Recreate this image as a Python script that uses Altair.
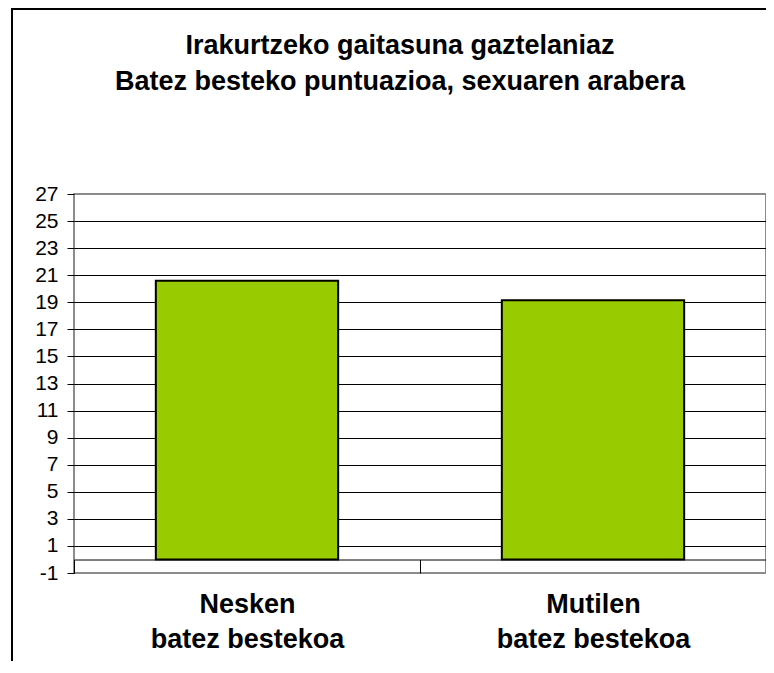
import altair as alt
import pandas as pd

# ---- data ----
categories = ["Nesken\nbatez bestekoa", "Mutilen\nbatez bestekoa"]
values = [20.6, 19.15]
y_ticks = [-1, 1, 3, 5, 7, 9, 11, 13, 15, 17, 19, 21, 23, 25, 27]
title_lines = ["Irakurtzeko gaitasuna gaztelaniaz",
               "Batez besteko puntuazioa, sexuaren arabera"]

df = pd.DataFrame({"cat": categories, "val": values})
one = pd.DataFrame({"t": [0]})

W, H = 692, 379
FONT = "Liberation Sans"

grid_op = {"condition": {"test": "datum.value == 27 || datum.value == -1", "value": 0}, "value": 1}

bars = alt.Chart(df).mark_bar(
    color="#99CC00", stroke="black", strokeWidth=2, width=alt.RelativeBandSize(0.527)
).encode(
    x=alt.X("cat:N", sort=categories, title=None,
            scale=alt.Scale(paddingInner=0, paddingOuter=0),
            axis=alt.Axis(labelAngle=0, labelExpr="split(datum.label, '\\n')",
                          labelFont=FONT, labelFontSize=27, labelFontWeight="bold",
                          labelColor="black", labelPadding=18, labelLineHeight=35,
                          labelBaseline="top", labelLimit=500,
                          offset=-13.5, domainColor="black", domainWidth=1,
                          tickBand="extent", tickColor="black", tickSize=13.5, tickWidth=1)),
    y=alt.Y("val:Q", title=None,
            scale=alt.Scale(domain=[-1, 27], nice=False, zero=False),
            axis=alt.Axis(values=y_ticks, labelExpr="'' + datum.value",
                          labelFont=FONT, labelFontSize=21, labelColor="black",
                          tickColor="black", tickSize=7, tickWidth=1, labelPadding=9,
                          domain=False, grid=True, gridColor="black", gridWidth=1,
                          gridOpacity=grid_op)),
)

title = alt.Chart(one).mark_text(
    font=FONT, fontSize=27, fontWeight="bold", align="center", baseline="alphabetic",
    lineHeight=35.7, color="black"
).encode(x=alt.value(326), y=alt.value(-139.7), text=alt.value(title_lines))

border = alt.Chart(one).mark_rect(
    fillOpacity=0, stroke="black", strokeWidth=2
).encode(x=alt.value(-62), x2=alt.value(720), y=alt.value(-185), y2=alt.value(500))

chart = alt.layer(border, bars, title).properties(
    width=W, height=H,
    autosize=alt.AutoSizeParams(type="none"),
    padding={"left": 66, "top": 186, "right": 0, "bottom": 88},
).configure(font=FONT).configure_view(stroke="#8c8c8c", strokeWidth=2)

chart.save("out.html", embed_options={"renderer": "svg", "actions": False})
